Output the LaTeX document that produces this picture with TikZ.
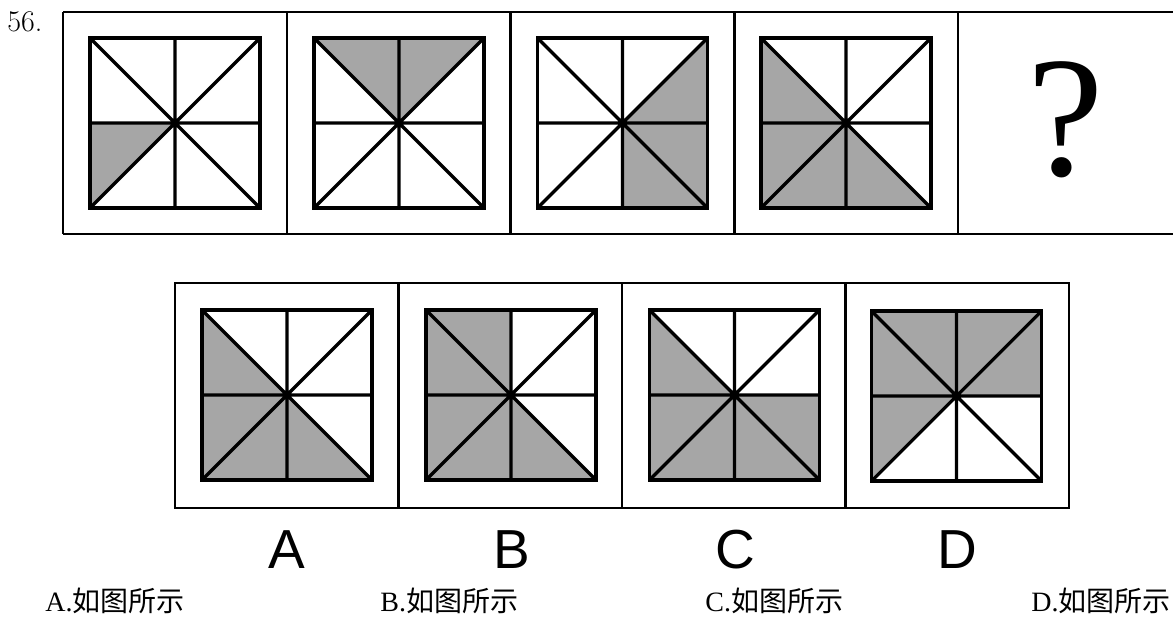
\documentclass[tikz,border=0pt]{standalone}
\usepackage{fontspec}
\usetikzlibrary{positioning}
\newfontfamily\cjk{Noto Sans CJK SC}
\newfontfamily\optserif{Liberation Serif}
\newfontfamily\lettersans{Liberation Sans}
\definecolor{tileshade}{RGB}{166,166,166}

\tikzset{
    frameline/.style={line width=1.25pt, black},
    tileline/.style={line width=1.6pt, black},
    tilefill/.style={fill=tileshade},
    answertext/.style={font=\fontsize{14}{16}\selectfont, anchor=west, inner sep=0pt},
    letterlabel/.style={font=\lettersans\fontsize{27.5}{30}\selectfont, inner sep=0pt},
}

% one tile: name, centre x, centre y, shaded sectors (0 = right-upper, counted round)
\newcommand{\pinwheel}[4]{%
    \begin{scope}[shift={(#2,#3)}]
        \foreach \k/\px/\py in {0/85/0, 1/85/-85, 2/0/-85, 3/-85/-85, 4/-85/0, 5/-85/85, 6/0/85, 7/85/85}
            \coordinate (#1-\k) at (\px,\py);
        \coordinate (#1-c) at (0,0);
        \foreach \k [evaluate=\k as \n using {int(mod(\k+1,8))}] in {#4}
            \fill[tilefill] (#1-c) -- (#1-\k) -- (#1-\n) -- cycle;
        \draw[tileline] (#1-1) rectangle (#1-5);
        \draw[tileline] (#1-0) -- (#1-4) (#1-2) -- (#1-6) (#1-1) -- (#1-5) (#1-3) -- (#1-7);
        \fill (#1-c) circle (1.5pt);
    \end{scope}}

\begin{document}
\begin{tikzpicture}[x=0.5pt, y=-0.5pt]

    \useasboundingbox (0,0) rectangle (1173,621);

    % Question number
    \node[anchor=base west, inner sep=0pt, font=\fontsize{15}{16}\selectfont] (num) at (7,32) {56.};

    % Top row of frames
    \foreach \x in {63, 286.75, 510.5, 734.25, 958}
        \draw[frameline] (\x,12) -- (\x,234);
    \draw[frameline] (63,12) -- (1173,12) (63,234) -- (1173,234);

    % Sequence tiles
    \pinwheel{s1}{175}{123}{4}
    \pinwheel{s2}{399}{123}{1,2}
    \pinwheel{s3}{622.5}{123}{0,6,7}
    \pinwheel{s4}{846}{123}{3,4,5,6}

    % Missing tile
    \node[inner sep=0pt, font=\optserif\fontsize{86}{86}\selectfont] (query) at (1066,120) {?};

    % Bottom row of frames
    \draw[frameline] (175,283) rectangle (1069,508);
    \foreach \x in {398.5, 622, 845.5}
        \draw[frameline] (\x,283) -- (\x,508);

    % Answer tiles
    \pinwheel{ta}{287}{395}{3,4,5,6}
    \pinwheel{tb}{511}{395}{2,3,4,5,6}
    \pinwheel{tc}{734.5}{395}{3,4,5,6,7}
    \pinwheel{td}{956.5}{396}{0,1,2,3,4}

    % Letters under the tiles
    \node[letterlabel] (lblA) at (287,550) {A};
    \node[letterlabel] (lblB) at (512,550) {B};
    \node[letterlabel] (lblC) at (735,550) {C};
    \node[letterlabel] (lblD) at (957,550) {D};

    % Answer lines
    \node[answertext] (optA) at (45,601) {{\optserif A.}{\cjk 如图所示}};
    \node[answertext] (optB) at (380,601) {{\optserif B.}{\cjk 如图所示}};
    \node[answertext] (optC) at (705,601) {{\optserif C.}{\cjk 如图所示}};
    \node[answertext] (optD) at (1031,601) {{\optserif D.}{\cjk 如图所示}};

\end{tikzpicture}
\end{document}
